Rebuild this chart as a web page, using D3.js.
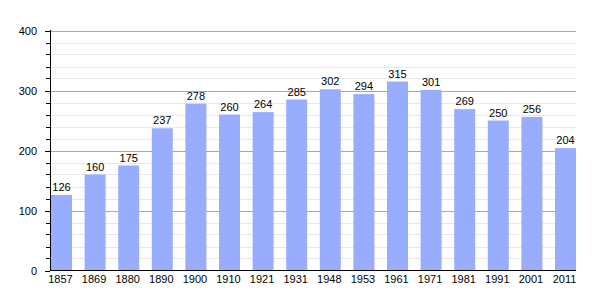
<!DOCTYPE html>
<html><head><meta charset="utf-8">
<script src="https://cdn.jsdelivr.net/npm/d3@7"></script>
<style>body{margin:0;background:#fff}svg{display:block}text{font-family:"Liberation Sans",Arial,sans-serif}</style>
</head><body>
<svg id="c" width="605" height="300"></svg>
<script>
const years = ["1857","1869","1880","1890","1900","1910","1921","1931","1948","1953","1961","1971","1981","1991","2001","2011"];
const population = [126,160,175,237,278,260,264,285,302,294,315,301,269,250,256,204];
const majorTicks = [0,100,200,300,400];

const svg = d3.select("#c");
const x = d3.scaleBand().domain(years).range([51,576]).paddingInner(0.375).paddingOuter(0);
const y = d3.scaleLinear().domain([0,400]).range([270.5,30.5]);

const minor = d3.range(0,401,20).filter(v => v%100!==0);
svg.append("g").selectAll("line").data(minor).join("line")
  .attr("x1",50).attr("x2",576).attr("y1",d=>Math.round(y(d))+0.5).attr("y2",d=>Math.round(y(d))+0.5)
  .attr("stroke","#e8e8e8").attr("stroke-width",1);
svg.append("g").selectAll("line").data(majorTicks.filter(v=>v>0)).join("line")
  .attr("x1",50).attr("x2",576).attr("y1",d=>Math.round(y(d))+0.5).attr("y2",d=>Math.round(y(d))+0.5)
  .attr("stroke","#a8a8a8").attr("stroke-width",1);

svg.append("g").selectAll("rect").data(population).join("rect")
  .attr("x",(d,i)=>x(years[i])).attr("width",x.bandwidth())
  .attr("y",d=>y(d)).attr("height",d=>y(0)-y(d))
  .attr("fill","#99adff");

svg.append("g").selectAll("text").data(population).join("text")
  .attr("x",(d,i)=>x(years[i])+x.bandwidth()/2).attr("y",d=>y(d)-4)
  .attr("text-anchor","middle").attr("font-size",11).attr("fill","#000").text(d=>d);

// y axis
const yAxis = svg.append("g");
yAxis.append("line").attr("x1",50.5).attr("x2",50.5).attr("y1",30).attr("y2",271).attr("stroke","#000");
yAxis.selectAll("line.min").data(minor).join("line").attr("class","min")
  .attr("x1",46).attr("x2",50).attr("y1",d=>Math.round(y(d))+0.5).attr("y2",d=>Math.round(y(d))+0.5).attr("stroke","#000");
yAxis.selectAll("line.maj").data(majorTicks).join("line").attr("class","maj")
  .attr("x1",45).attr("x2",50).attr("y1",d=>Math.round(y(d))+0.5).attr("y2",d=>Math.round(y(d))+0.5).attr("stroke","#000");
yAxis.selectAll("text").data(majorTicks).join("text")
  .attr("x",37).attr("y",d=>y(d)+4).attr("text-anchor","end").attr("font-size",11).text(d=>d);

// x axis
svg.append("line").attr("x1",50).attr("x2",576).attr("y1",270.5).attr("y2",270.5).attr("stroke","#000");
svg.append("g").selectAll("text").data(years).join("text")
  .attr("x",d=>x(d)+x.bandwidth()/2 - 1).attr("y",283)
  .attr("text-anchor","middle").attr("font-size",11).text(d=>d);
</script>
</body></html>
